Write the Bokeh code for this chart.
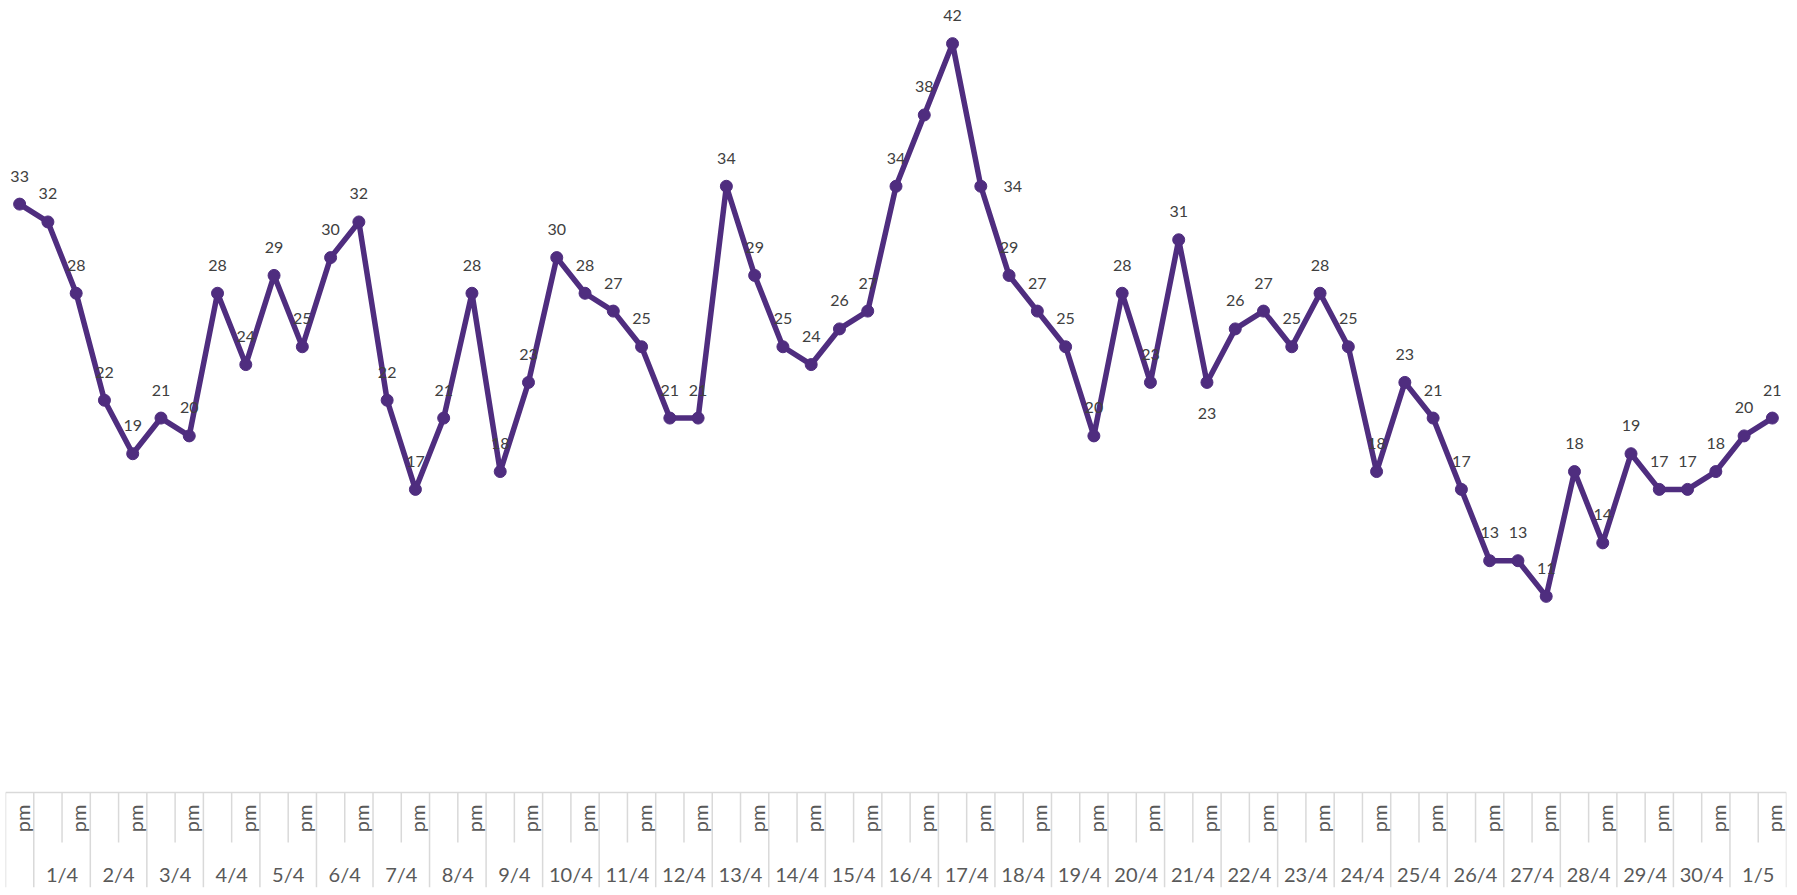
import math
from bokeh.plotting import figure
from bokeh.models import ColumnDataSource, FactorRange, Range1d
from bokeh.core.properties import value
from bokeh.embed import file_html
from bokeh.resources import INLINE

# ---------------- data ----------------
dates = ["1/4", "2/4", "3/4", "4/4", "5/4", "6/4", "7/4", "8/4", "9/4", "10/4",
         "11/4", "12/4", "13/4", "14/4", "15/4", "16/4", "17/4", "18/4", "19/4", "20/4",
         "21/4", "22/4", "23/4", "24/4", "25/4", "26/4", "27/4", "28/4", "29/4", "30/4", "1/5"]
slots = ["", "pm"]
first_group = ""
values = [33, 32, 28, 22, 19, 21, 20, 28, 24, 29, 25, 30, 32, 22, 17, 21, 28, 18, 23, 30,
          28, 27, 25, 21, 21, 34, 29, 25, 24, 26, 27, 34, 38, 42, 34, 29, 27, 25, 20, 28,
          23, 31, 23, 26, 27, 25, 28, 25, 18, 23, 21, 17, 13, 13, 11, 18, 14, 19, 17, 17,
          18, 20, 21]

factors = [(first_group, "pm")] + [(d, s) for d in dates for s in slots]

# ---------------- styles ----------------
PURPLE = "#4F2D7F"
GRID = "#D9D9D9"
AXIS_TXT = "#595959"
LAB_TXT = "#404040"
W, H = 1797, 895
BL, BR, BT, BB = 5, 11, 0, 8
PX_PER_UNIT = 17.83
Y_TOP = 792 / PX_PER_UNIT
Y_BOT = -95 / PX_PER_UNIT
ROW_SPLIT = -50 / PX_PER_UNIT
PM_Y = -26 / PX_PER_UNIT
DATE_Y = -81 / PX_PER_UNIT

x_range = FactorRange(factors=factors, group_padding=0, factor_padding=0, range_padding=0)
p = figure(width=W, height=H, x_range=x_range, y_range=Range1d(Y_BOT, Y_TOP),
           output_backend="svg", toolbar_location=None,
           x_axis_location=None, y_axis_location=None,
           min_border=0, min_border_left=BL, min_border_right=BR,
           min_border_top=BT, min_border_bottom=BB)
p.outline_line_color = None
p.xgrid.visible = False
p.ygrid.visible = False
p.background_fill_color = "white"
p.border_fill_color = "white"

# ---- category table (axis region) ----
bx, by0, by1 = [], [], []
for i, f in enumerate(factors):
    full = (i == 0) or (factors[i - 1][0] != f[0])
    bx.append((f[0], f[1], -0.5))
    by0.append(0)
    by1.append(Y_BOT if full else ROW_SPLIT)
bx.append((factors[-1][0], factors[-1][1], 0.5))
by0.append(0)
by1.append(Y_BOT)
p.segment(x0=bx, y0=by0, x1=bx, y1=by1, line_color=GRID, line_width=1.5)
p.segment(x0=[(factors[0][0], factors[0][1], -0.5)], y0=[0],
          x1=[(factors[-1][0], factors[-1][1], 0.5)], y1=[0],
          line_color=GRID, line_width=1.5)

pm_x = [f for f in factors if f[1] == "pm"]
p.text(x=pm_x, y=[PM_Y] * len(pm_x), text=["pm"] * len(pm_x), angle=math.pi / 2,
       text_align="center", text_baseline="middle", x_offset=2,
       text_font=value("Lato"), text_font_size="20px", text_color=AXIS_TXT)
p.text(x=dates, y=[DATE_Y] * len(dates), text=dates,
       text_align="center", text_baseline="middle",
       text_font=value("Lato"), text_font_size="20px", text_color=AXIS_TXT)

# ---- series ----
src = ColumnDataSource(dict(x=factors, y=values, t=[str(v) for v in values]))
p.line("x", "y", source=src, line_color=PURPLE, line_width=5.5, line_join="round")
p.scatter("x", "y", source=src, size=12, fill_color=PURPLE, line_color=PURPLE)

# data labels: above the point, with two exceptions
special = {34: (32, 0), 42: (0, 31)}
dx = [special.get(i, (0, -28))[0] for i in range(len(values))]
dy = [special.get(i, (0, -28))[1] for i in range(len(values))]
src.data["dx"] = dx
src.data["dy"] = dy
p.text("x", "y", text="t", source=src, x_offset="dx", y_offset="dy",
       text_align="center", text_baseline="middle",
       text_font=value("Lato"), text_font_size="16px", text_color=LAB_TXT)

open("out.html", "w").write(file_html(p, INLINE))
